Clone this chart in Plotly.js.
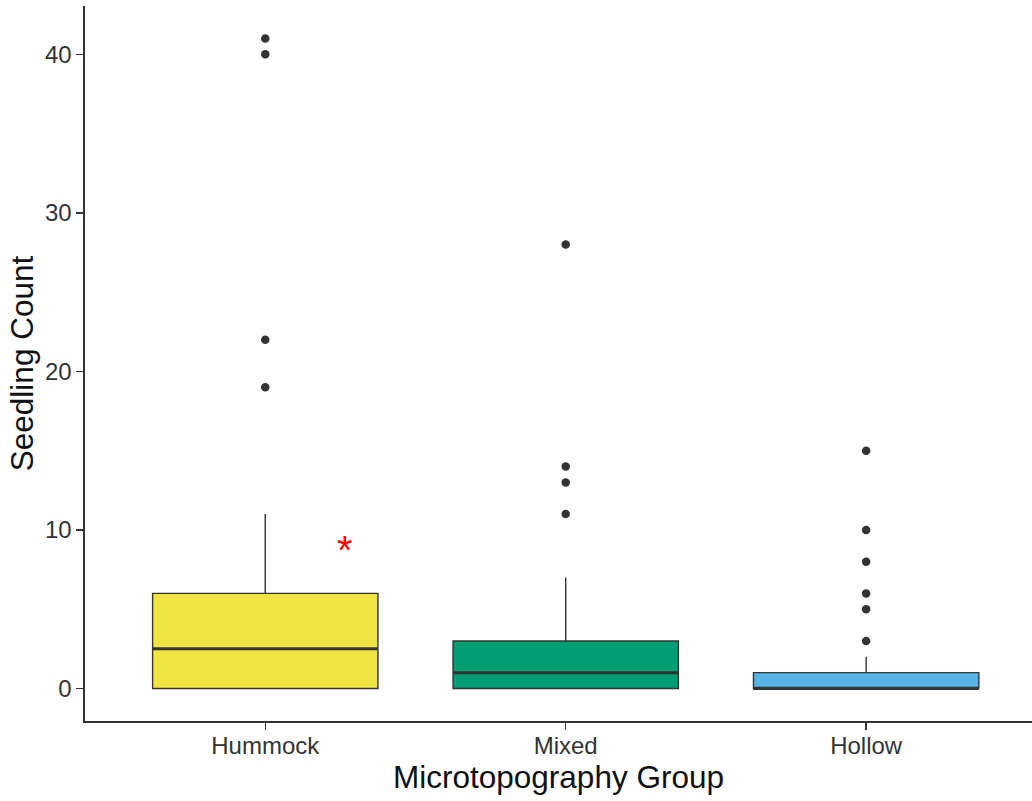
<!DOCTYPE html>
<html>
<head>
<meta charset="utf-8">
<script src="https://cdn.plot.ly/plotly-3.0.1.min.js"></script>
<style>
  html, body { margin: 0; padding: 0; background: #ffffff; }
  #chart { width: 1032px; height: 801px; }
</style>
</head>
<body>
<div id="chart"></div>
<script>
// Seedling counts by microtopography group: box summary statistics
const groups = ['Hummock', 'Mixed', 'Hollow'];
const q1 = [0, 0, 0];
const medians = [2.5, 1, 0];
const q3 = [6, 3, 1];
const lowerWhisker = [0, 0, 0];
const upperWhisker = [11, 7, 2];
const outliers = [
  [19, 22, 40, 41],
  [11, 13, 14, 28],
  [3, 5, 6, 8, 10, 15]
];
const fills = ['#F0E442', '#009E73', '#56B4E9'];
const sigMark = '*';

const boxWidth = 0.75;
const ink = '#333333';

const traces = groups.map((g, i) => ({
  type: 'box',
  x: [g],
  q1: [q1[i]],
  median: [medians[i]],
  q3: [q3[i]],
  lowerfence: [lowerWhisker[i]],
  upperfence: [upperWhisker[i]],
  width: boxWidth,
  whiskerwidth: 0,
  boxpoints: false,
  fillcolor: fills[i],
  line: { color: ink, width: 1.4 },
  hoverinfo: 'skip',
  showlegend: false
}));

// Outlying observations drawn as points over each group
const outX = [];
const outY = [];
outliers.forEach((vals, i) => vals.forEach(v => { outX.push(groups[i]); outY.push(v); }));
traces.push({
  type: 'scatter',
  mode: 'markers',
  x: outX,
  y: outY,
  marker: { color: ink, size: 8.5 },
  hoverinfo: 'skip',
  showlegend: false
});

// Heavier median bars, as in ggplot boxplots
const medianShapes = medians.map((m, i) => ({
  type: 'line',
  xref: 'x', yref: 'y',
  x0: i - boxWidth / 2, x1: i + boxWidth / 2,
  y0: m, y1: m,
  line: { color: ink, width: 3 }
}));

const layout = {
  width: 1032,
  height: 801,
  margin: { l: 85, r: 0, t: 6, b: 80 },
  paper_bgcolor: '#ffffff',
  plot_bgcolor: '#ffffff',
  font: { family: 'Liberation Sans, Arial, sans-serif', color: ink },
  boxmode: 'overlay',
  shapes: medianShapes,
  xaxis: {
    type: 'category',
    categoryorder: 'array',
    categoryarray: groups,
    range: [-0.6, 2.552],
    showgrid: false,
    zeroline: false,
    showline: true,
    linecolor: ink,
    linewidth: 1.6,
    ticks: 'outside',
    ticklen: 7,
    tickwidth: 1.4,
    tickcolor: ink,
    ticklabelstandoff: -4,
    tickfont: { size: 24, color: '#333333' },
    title: { text: 'Microtopography Group', font: { size: 31.5, color: '#111111' }, standoff: 4 }
  },
  yaxis: {
    range: [-2.05, 43.05],
    tickvals: [0, 10, 20, 30, 40],
    showgrid: false,
    zeroline: false,
    showline: true,
    linecolor: ink,
    linewidth: 1.6,
    ticks: 'outside',
    ticklen: 7,
    tickwidth: 1.4,
    tickcolor: ink,
    tickfont: { size: 24, color: '#333333' },
    title: { text: 'Seedling Count', font: { size: 31.5, color: '#111111' }, standoff: 2 }
  },
  annotations: [{
    xref: 'x', yref: 'y',
    x: 0.266, y: 9.1,
    text: sigMark,
    showarrow: false,
    font: { size: 40, color: '#ff0000' },
    xanchor: 'center', yanchor: 'middle',
    yshift: -6
  }]
};

Plotly.newPlot('chart', traces, layout, { displayModeBar: false, staticPlot: true });
</script>
</body>
</html>
